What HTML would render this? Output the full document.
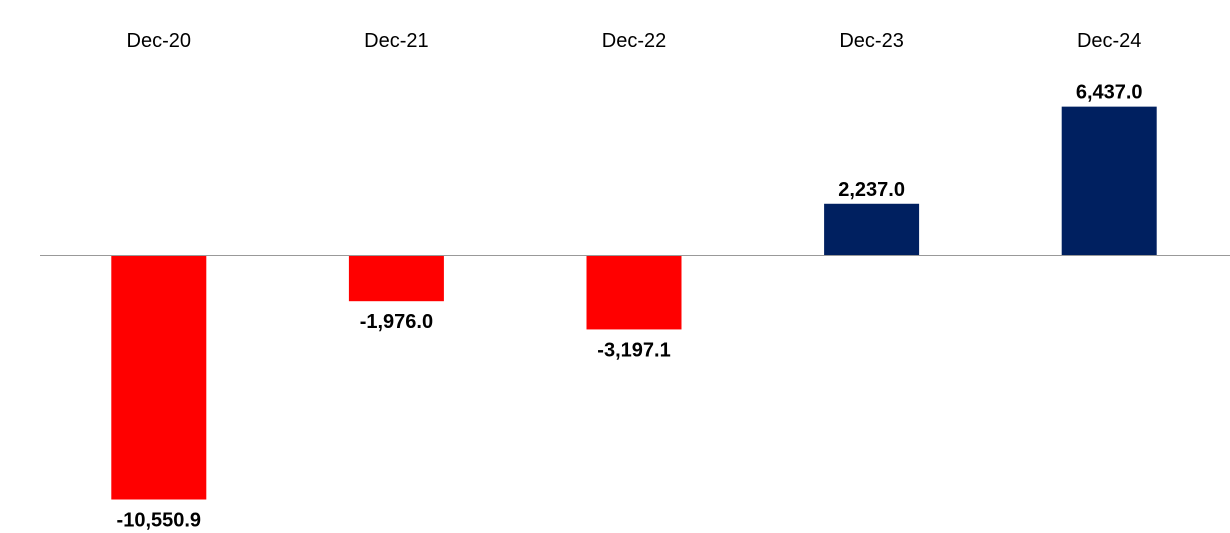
<!DOCTYPE html>
<html><head><meta charset="utf-8"><style>
html,body{margin:0;padding:0;background:#fff;}
svg{display:block;font-family:"Liberation Sans",Calibri,sans-serif;}
</style></head><body>
<svg id="chart" width="1230" height="533" viewBox="0 0 1230 533" xmlns="http://www.w3.org/2000/svg">
<g id="labels"></g><g id="bars"></g>
<line x1="40" x2="1230" y1="255.5" y2="255.5" stroke="#999" stroke-width="1"/>
</svg>
<script>
const categories = ["Dec-20","Dec-21","Dec-22","Dec-23","Dec-24"];
const values = [-10550.9,-1976.0,-3197.1,2237.0,6437.0];
const valueLabels = ["-10,550.9","-1,976.0","-3,197.1","2,237.0","6,437.0"];

const NS="http://www.w3.org/2000/svg";
const x0=40, band=237.6, barW=95, zeroY=255.5, k=244/10550.9;
const xCenter=i=>x0+band*(i+0.5);
const yPos=v=>zeroY - v*k;
const bars=document.getElementById('bars'), labels=document.getElementById('labels');
categories.forEach((c,i)=>{
  const t=document.createElementNS(NS,'text');
  
  
  t.setAttribute('x',xCenter(i)); t.setAttribute('y',47);
  t.setAttribute('text-anchor','middle'); t.setAttribute('font-size','20'); t.setAttribute('fill','#000');
  t.textContent=c; labels.appendChild(t);
  const v=values[i];
  const r=document.createElementNS(NS,'rect');
  
  
  const y1=Math.min(yPos(v),zeroY), y2=Math.max(yPos(v),zeroY);
  r.setAttribute('x',xCenter(i)-barW/2); r.setAttribute('y',y1);
  r.setAttribute('width',barW); r.setAttribute('height',y2-y1);
  r.setAttribute('fill',v<0?'#ff0000':'#002060');
  bars.appendChild(r);
  const l=document.createElementNS(NS,'text');
  
  
  l.setAttribute('x',xCenter(i)); l.setAttribute('y',v<0?yPos(v)+27:yPos(v)-8);
  l.setAttribute('text-anchor','middle'); l.setAttribute('font-size','20'); l.setAttribute('font-weight','bold'); l.setAttribute('fill','#000');
  l.textContent=valueLabels[i]; bars.appendChild(l);
});
</script>
</body></html>
